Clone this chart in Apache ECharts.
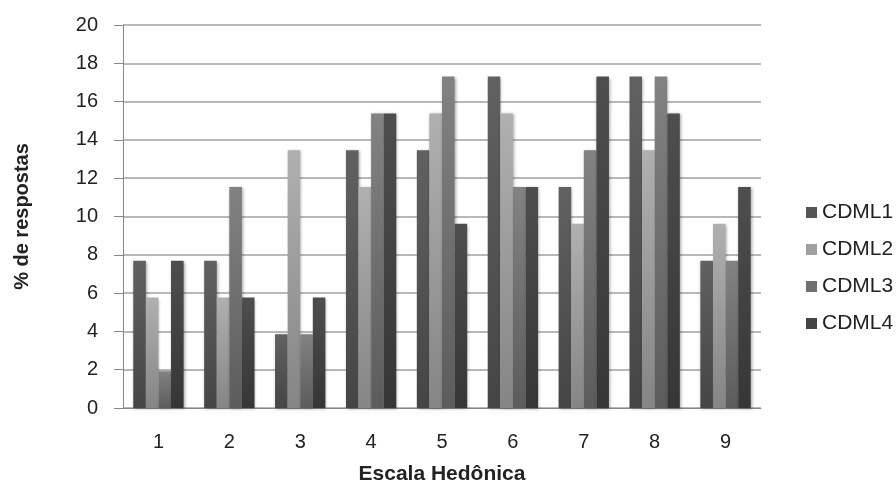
<!DOCTYPE html>
<html><head><meta charset="utf-8">
<script src="https://cdn.jsdelivr.net/npm/echarts@6/dist/echarts.min.js"></script>
<style>html,body{margin:0;padding:0;background:#fff}#c{width:896px;height:485px}</style>
</head><body><div id="c"></div>
<script>
var categories = ['1','2','3','4','5','6','7','8','9'];
var seriesNames = ['CDML1','CDML2','CDML3','CDML4'];
var cdml1 = [7.69, 7.69, 3.85, 13.46, 13.46, 17.31, 11.54, 17.31, 7.69];
var cdml2 = [5.77, 5.77, 13.46, 11.54, 15.38, 15.38, 9.62, 13.46, 9.62];
var cdml3 = [1.92, 11.54, 3.85, 15.38, 17.31, 11.54, 13.46, 17.31, 7.69];
var cdml4 = [7.69, 5.77, 5.77, 15.38, 9.62, 11.54, 17.31, 15.38, 11.54];
var yTicks = [0,2,4,6,8,10,12,14,16,18,20];

var values = [cdml1, cdml2, cdml3, cdml4];
var colorPairs = [['#616161','#454545'],['#b0b0b0','#858585'],['#828282','#5c5c5c'],['#4e4e4e','#363636']];
var legendColors = ['#555555','#a0a0a0','#707070','#444444'];
var font = '"Liberation Sans",Arial,sans-serif';

var chart = echarts.init(document.getElementById('c'));
chart.setOption({
  animation:false,
  textStyle:{fontFamily:font},
  grid:{left:123,right:135,top:25,bottom:77,containLabel:false,outerBoundsMode:'none'},
  legend:{
    orient:'vertical', left:801, top:197, itemWidth:11, itemHeight:11, itemGap:16,
    icon:'rect',
    textStyle:{fontSize:21,color:'#222',fontFamily:font},
    data: seriesNames.map(function(n,i){return {name:n, itemStyle:{color:legendColors[i]}};})
  },
  xAxis:{
    type:'category', data:categories,
    axisLine:{lineStyle:{color:'#888'}},
    axisTick:{show:false},
    axisLabel:{fontSize:20,color:'#222',margin:24},
    name:'Escala Hedônica', nameLocation:'middle', nameGap:56,
    nameTextStyle:{fontSize:21,fontWeight:'bold',color:'#222'}
  },
  yAxis:{
    type:'value', min:0, max:20, interval:2,
    axisLine:{show:true,lineStyle:{color:'#888'}},
    axisTick:{show:true,length:9,lineStyle:{color:'#888'}},
    axisLabel:{fontSize:20,color:'#222',margin:25},
    splitLine:{lineStyle:{color:'#a0a0a0',width:1.5}},
    name:'% de respostas', nameLocation:'middle', nameGap:91,
    nameTextStyle:{fontSize:20,fontWeight:'bold',color:'#222'}
  },
  series: values.map(function(v,i){
    return {
      name:seriesNames[i], type:'bar', data:v,
      barGap:'0%', barCategoryGap:'29%',
      itemStyle:{
        color:new echarts.graphic.LinearGradient(0,0,0,1,[{offset:0,color:colorPairs[i][0]},{offset:1,color:colorPairs[i][1]}]),
        shadowColor:'rgba(0,0,0,0.35)', shadowBlur:3, shadowOffsetX:1, shadowOffsetY:1
      }
    };
  })
});
</script></body></html>
